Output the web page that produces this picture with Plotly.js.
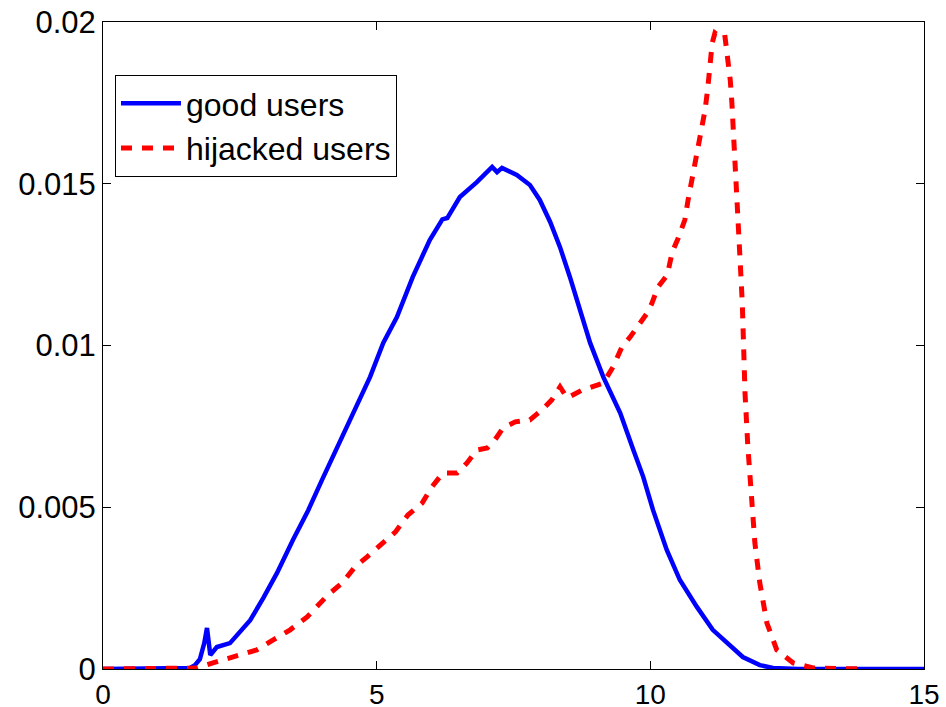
<!DOCTYPE html>
<html>
<head>
<meta charset="utf-8">
<script src="https://cdn.plot.ly/plotly-3.0.1.min.js"></script>
<style>
  html, body { margin: 0; padding: 0; background: #fff; }
  #chart { width: 946px; height: 707px; }
</style>
</head>
<body>
<div id="chart"></div>
<script>
// Good users density
const goodX = [0, 0.5, 1.0, 1.5, 1.59, 1.68, 1.77, 1.85, 1.90, 1.96, 2.08, 2.32, 2.69, 2.93, 3.18, 3.47, 3.75, 4.00, 4.20, 4.46, 4.66, 4.88, 5.12, 5.37, 5.66, 5.97, 6.20, 6.29, 6.52, 6.83, 7.11, 7.20, 7.29, 7.56, 7.80, 7.98, 8.17, 8.35, 8.53, 8.71, 8.90, 9.14, 9.45, 9.69, 9.87, 10.05, 10.30, 10.54, 10.85, 11.14, 11.40, 11.69, 12.00, 12.24, 12.70, 13.5, 14.3, 15];
const goodY = [0, 0, 0, 0, 0.00003, 0.00012, 0.0003, 0.0008, 0.00127, 0.00043, 0.00068, 0.0008, 0.00151, 0.0022, 0.00297, 0.00399, 0.00491, 0.00584, 0.00655, 0.00748, 0.00822, 0.00903, 0.01008, 0.01088, 0.01212, 0.01326, 0.0139, 0.01394, 0.01459, 0.01505, 0.01552, 0.01536, 0.01549, 0.01527, 0.01496, 0.0145, 0.01382, 0.01304, 0.01212, 0.0111, 0.01008, 0.00903, 0.00791, 0.00677, 0.00594, 0.00491, 0.00368, 0.00275, 0.00192, 0.00121, 0.00083, 0.00037, 0.00012, 0.00003, 0, 0, 0, 0];

// Hijacked users density
const hijX = [0, 0.5, 1.0, 1.5, 1.72, 2.01, 2.38, 2.81, 3.11, 3.42, 3.73, 4.11, 4.37, 4.60, 4.82, 5.06, 5.34, 5.57, 5.83, 6.01, 6.21, 6.47, 6.65, 6.83, 7.02, 7.16, 7.31, 7.53, 7.80, 8.02, 8.20, 8.35, 8.48, 8.75, 8.93, 9.14, 9.32, 9.48, 9.63, 9.78, 9.94, 10.03, 10.14, 10.31, 10.40, 10.51, 10.63, 10.69, 10.76, 10.85, 10.94, 11.00, 11.05, 11.09, 11.13, 11.18, 11.27, 11.36, 11.40, 11.46, 11.49, 11.53, 11.58, 11.64, 11.68, 11.70, 11.73, 11.78, 11.86, 11.91, 12.00, 12.13, 12.31, 12.61, 12.97, 13.4, 13.9];
const hijY = [0, 0, 0, 0, 0.00003, 0.00019, 0.00037, 0.00059, 0.0009, 0.00121, 0.00161, 0.00229, 0.00266, 0.00315, 0.00346, 0.00383, 0.00423, 0.00476, 0.00513, 0.00563, 0.00606, 0.00606, 0.00637, 0.00677, 0.00683, 0.00708, 0.00745, 0.00764, 0.0077, 0.00801, 0.00832, 0.00872, 0.00838, 0.00862, 0.00872, 0.00884, 0.00934, 0.00995, 0.01026, 0.0106, 0.011, 0.01131, 0.01181, 0.01218, 0.01289, 0.01332, 0.01388, 0.0145, 0.01512, 0.01595, 0.01657, 0.01728, 0.01796, 0.01861, 0.01935, 0.01966, 0.01954, 0.0196, 0.01913, 0.01821, 0.0175, 0.01635, 0.0145, 0.01264, 0.01131, 0.00995, 0.00853, 0.00692, 0.00513, 0.0039, 0.00266, 0.00142, 0.00059, 0.00019, 0.00003, 0, 0];

const xTickVals = [0, 5, 10, 15];
const xTickText = ["0", "5", "10", "15"];
const yTickVals = [0, 0.005, 0.01, 0.015, 0.02];
const yTickText = ["0", "0.005", "0.01", "0.015", "0.02"];

const seriesNames = ["good users", "hijacked users"];

const FONT = "Liberation Sans, Arial, Helvetica, sans-serif";

const traces = [
  {
    x: goodX, y: goodY, type: "scatter", mode: "lines", name: seriesNames[0],
    line: { color: "#0000ff", width: 4.5 }
  },
  {
    x: hijX, y: hijY, type: "scatter", mode: "lines", name: seriesNames[1],
    line: { color: "#ff0000", width: 5, dash: "11px,10px" }
  }
];

const axisCommon = {
  showline: true, linecolor: "#000", linewidth: 1, mirror: "ticks",
  ticks: "inside", ticklen: 8, tickwidth: 1, tickcolor: "#000",
  showgrid: false, zeroline: false
};

const layout = {
  width: 946, height: 707,
  margin: { l: 103, r: 22, t: 22, b: 38 },
  paper_bgcolor: "#fff", plot_bgcolor: "#fff",
  showlegend: true,
  xaxis: Object.assign({}, axisCommon, {
    range: [0, 15], tickmode: "array", tickvals: xTickVals, ticktext: xTickText,
    tickfont: { family: FONT, size: 28, color: "#000" }
  }),
  yaxis: Object.assign({}, axisCommon, {
    range: [0, 0.02], tickmode: "array", tickvals: yTickVals, ticktext: yTickText,
    tickfont: { family: FONT, size: 31, color: "#000" }
  }),
  legend: {
    x: 0.0146, y: 0.918, xanchor: "left", yanchor: "top",
    bgcolor: "#fff", bordercolor: "#000", borderwidth: 1,
    font: { family: FONT, size: 32, color: "#000" },
    itemwidth: 60,
    tracegroupgap: 0
  }
};

Plotly.newPlot("chart", traces, layout, { displayModeBar: false, staticPlot: true });
</script>
</body>
</html>
